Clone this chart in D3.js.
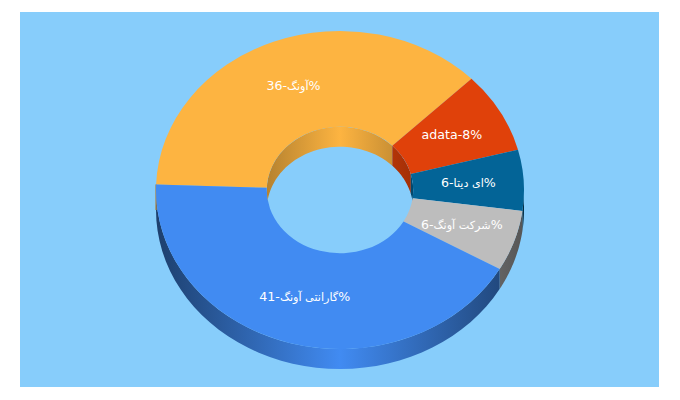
<!DOCTYPE html>
<html>
<head>
<meta charset="utf-8">
<script src="https://cdn.jsdelivr.net/npm/d3@7"></script>
<style>
  html, body { margin: 0; padding: 0; background: #fff; }
  svg { display: block; }
  text { font-family: "DejaVu Sans", sans-serif; font-size: 12.6px; fill: #fff; direction: ltr; }
  tspan.fa { font-size: 11.2px; }
</style>
</head>
<body>
<svg id="chart"></svg>
<script>
  const categories = ["آونگ", "adata", "ای دیتا", "شرکت آونگ", "گارانتی آونگ"];
  const shares = [36, 8, 6, 6, 41];
  const colors = ["#fdb441", "#e0410a", "#036497", "#bdbdbd", "#418bf2"];

  const width = 680, height = 400;
  const plot = { x: 20, y: 12, w: 639, h: 375 };
  const cx = 340, cy = 190;
  const rx = 184, ry = 159;
  const holeRatio = 0.398;
  const depth = 20;
  const bg = "#87cdfb";

  const svg = d3.select("#chart").attr("width", width).attr("height", height);
  svg.append("rect")
    .attr("x", plot.x).attr("y", plot.y)
    .attr("width", plot.w).attr("height", plot.h)
    .attr("fill", bg);

  const toRad = d => d * Math.PI / 180;
  const pie = d3.pie().sort(null).startAngle(toRad(272)).endAngle(toRad(632));
  const slices = pie(shares);

  const defs = svg.append("defs");

  // Horizontal shading for a wall, dark at the sides and full colour in the middle
  function wallGradient(id, color, x0, x1, edge) {
    const g = defs.append("linearGradient")
      .attr("id", id)
      .attr("gradientUnits", "userSpaceOnUse")
      .attr("x1", x0).attr("x2", x1).attr("y1", 0).attr("y2", 0);
    const dark = d3.interpolateRgb("#000", color)(edge);
    g.append("stop").attr("offset", 0).attr("stop-color", dark);
    g.append("stop").attr("offset", 0.5).attr("stop-color", color);
    g.append("stop").attr("offset", 1).attr("stop-color", dark);
  }

  // Band between an elliptical arc and the same arc moved down by depth
  function wallPath(ratio, a0, a1) {
    const steps = d3.range(0, 41).map(i => a0 + (a1 - a0) * i / 40);
    const px = a => cx + rx * ratio * Math.sin(a);
    const py = a => cy - ry * ratio * Math.cos(a);
    return d3.area().x(px).y0(py).y1(a => py(a) + depth)(steps);
  }

  // Outer walls, only the part of each slice that faces the viewer
  const outerWalls = svg.append("g");
  slices.forEach((s, i) => {
    const a0 = Math.max(s.startAngle, toRad(450));
    const a1 = Math.min(s.endAngle, toRad(630));
    if (a1 <= a0) return;
    wallGradient("outer-" + i, colors[i], cx - rx, cx + rx, 0.45);
    outerWalls.append("path")
      .attr("d", wallPath(1, a0, a1))
      .attr("fill", `url(#outer-${i})`);
  });

  // Thin sliver of the first slice's wall showing at the far left edge
  outerWalls.append("path")
    .attr("d", wallPath(1, toRad(270), slices[0].startAngle))
    .attr("fill", "none")
    .attr("stroke", "#a58a5a")
    .attr("stroke-width", 1);

  // Top face
  const arc = d3.arc().innerRadius(holeRatio * rx).outerRadius(rx);
  const scaleY = ry / rx;
  const face = svg.append("g").attr("transform", `translate(${cx},${cy}) scale(1,${scaleY})`);
  face.selectAll("path")
    .data(slices)
    .join("path")
    .attr("d", arc)
    .attr("fill", (d, i) => colors[i]);

  // Inner walls, seen through the hole
  defs.append("clipPath").attr("id", "hole")
    .append("ellipse")
    .attr("cx", cx).attr("cy", cy)
    .attr("rx", rx * holeRatio).attr("ry", ry * holeRatio);
  const innerWalls = svg.append("g").attr("clip-path", "url(#hole)");
  slices.forEach((s, i) => {
    const a0 = Math.max(s.startAngle, toRad(270));
    const a1 = Math.min(s.endAngle, toRad(450));
    if (a1 <= a0) return;
    wallGradient("inner-" + i, colors[i], cx - rx * holeRatio, cx + rx * holeRatio, 0.72);
    innerWalls.append("path")
      .attr("d", wallPath(holeRatio, a0, a1))
      .attr("fill", `url(#inner-${i})`);
  });

  // Labels sit on the centroid of the top face
  const labels = svg.append("g").selectAll("text")
    .data(slices)
    .join("text")
    .attr("x", d => cx + arc.centroid(d)[0])
    .attr("y", d => cy + arc.centroid(d)[1] * scaleY)
    .attr("dy", "0.3em")
    .attr("text-anchor", "middle");

  // The Persian names run wide in DejaVu, so they get a smaller size
  labels.each(function(d, i) {
    const t = d3.select(this);
    const latin = /^[a-z]+$/i.test(categories[i]);
    if (latin) {
      t.text(`${categories[i]}-${shares[i]}%`);
    } else {
      t.append("tspan").text(`${shares[i]}-`);
      t.append("tspan").attr("class", "fa").text(categories[i]);
      t.append("tspan").text("%");
    }
  });
</script>
</body>
</html>
